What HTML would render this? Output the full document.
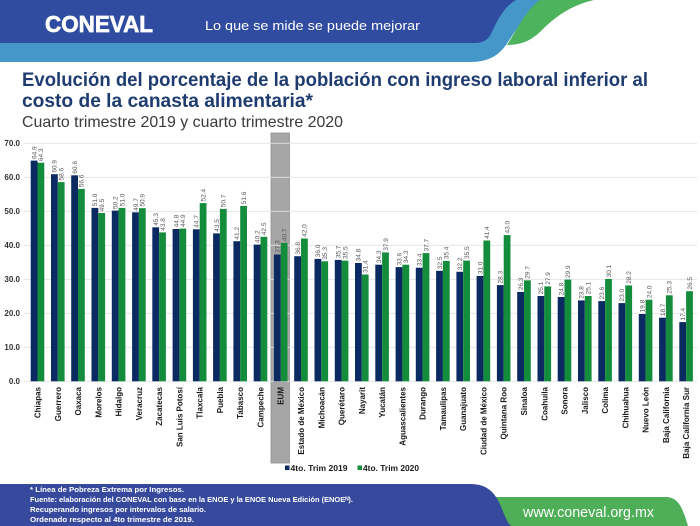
<!DOCTYPE html>
<html><head><meta charset="utf-8"><style>
html,body{margin:0;padding:0;background:#fff;}
svg{display:block;}
text{font-family:"Liberation Sans",Arial,sans-serif;}
.v{font-size:6.5px;fill:#555;}
.c{font-size:8px;font-weight:bold;fill:#1a1a1a;text-anchor:end;}
.y{font-size:8px;font-weight:bold;fill:#333;text-anchor:end;}
.f{font-size:7.2px;font-weight:bold;fill:#fff;}
</style></head><body>
<svg width="700" height="526" viewBox="0 0 700 526" xmlns="http://www.w3.org/2000/svg">
<rect width="700" height="526" fill="#fff"/>
<!-- header -->
<path d="M0,0 H548 C528,10 516,30 506,45 C498,56 488,62 470,62 H0 Z" fill="#4597ca"/>
<path d="M540,0 H594 C572,5 556,16 542,30 C532,40 522,45 507,45 C518,28 526,10 540,0 Z" fill="#4db35c"/>
<path d="M0,0 H516 C502,8 496,24 491,34 C487,41 482,43 474,43 H0 Z" fill="#2f4ca0"/>
<text x="45" y="32" font-size="23" font-weight="bold" fill="#fff" stroke="#fff" stroke-width="0.7" textLength="108" lengthAdjust="spacingAndGlyphs">CONEVAL</text>
<text x="205" y="30" font-size="13" fill="#fff" textLength="215" lengthAdjust="spacingAndGlyphs">Lo que se mide se puede mejorar</text>
<!-- titles -->
<text x="22" y="86" font-size="19.5" font-weight="bold" fill="#1f3c70" textLength="626" lengthAdjust="spacingAndGlyphs">Evolución del porcentaje de la población con ingreso laboral inferior al</text>
<text x="22" y="107" font-size="19.5" font-weight="bold" fill="#1f3c70" textLength="291" lengthAdjust="spacingAndGlyphs">costo de la canasta alimentaria*</text>
<text x="22" y="127" font-size="16" fill="#3a3a3a" textLength="321" lengthAdjust="spacingAndGlyphs">Cuarto trimestre 2019 y cuarto trimestre 2020</text>
<!-- EUM highlight -->
<rect x="271" y="133" width="18.5" height="330" fill="#a6a6a6" stroke="#909090" stroke-width="0.8"/>
<!-- grid -->
<g stroke="#e2e2e2" stroke-width="0.8">
<line x1="24" y1="143.3" x2="697" y2="143.3"/>
<line x1="24" y1="177.3" x2="697" y2="177.3"/>
<line x1="24" y1="211.3" x2="697" y2="211.3"/>
<line x1="24" y1="245.3" x2="697" y2="245.3"/>
<line x1="24" y1="279.3" x2="697" y2="279.3"/>
<line x1="24" y1="313.3" x2="697" y2="313.3"/>
<line x1="24" y1="347.3" x2="697" y2="347.3"/>
<line x1="24" y1="381.3" x2="697" y2="381.3"/>
</g>
<g>
<text class="y" x="20" y="146">70.0</text>
<text class="y" x="20" y="180">60.0</text>
<text class="y" x="20" y="214">50.0</text>
<text class="y" x="20" y="248">40.0</text>
<text class="y" x="20" y="282">30.0</text>
<text class="y" x="20" y="316">20.0</text>
<text class="y" x="20" y="350">10.0</text>
<text class="y" x="20" y="384">0.0</text>
</g>
<!-- blue bars -->
<g fill="#0b2a62">
<rect x="30.7" y="160.6" width="6.8" height="220.7"/>
<rect x="51.0" y="174.2" width="6.8" height="207.1"/>
<rect x="71.2" y="175.3" width="6.8" height="206.0"/>
<rect x="91.5" y="207.9" width="6.8" height="173.4"/>
<rect x="111.8" y="210.6" width="6.8" height="170.7"/>
<rect x="132.1" y="212.3" width="6.8" height="169.0"/>
<rect x="152.3" y="227.3" width="6.8" height="154.0"/>
<rect x="172.6" y="229.0" width="6.8" height="152.3"/>
<rect x="192.9" y="229.3" width="6.8" height="152.0"/>
<rect x="213.1" y="233.4" width="6.8" height="147.9"/>
<rect x="233.4" y="241.2" width="6.8" height="140.1"/>
<rect x="253.7" y="244.6" width="6.8" height="136.7"/>
<rect x="273.9" y="254.5" width="6.8" height="126.8"/>
<rect x="294.2" y="256.2" width="6.8" height="125.1"/>
<rect x="314.5" y="258.9" width="6.8" height="122.4"/>
<rect x="334.8" y="259.9" width="6.8" height="121.4"/>
<rect x="355.0" y="263.0" width="6.8" height="118.3"/>
<rect x="375.3" y="264.7" width="6.8" height="116.6"/>
<rect x="395.6" y="267.1" width="6.8" height="114.2"/>
<rect x="415.8" y="267.7" width="6.8" height="113.6"/>
<rect x="436.1" y="270.8" width="6.8" height="110.5"/>
<rect x="456.4" y="271.8" width="6.8" height="109.5"/>
<rect x="476.6" y="275.9" width="6.8" height="105.4"/>
<rect x="496.9" y="285.1" width="6.8" height="96.2"/>
<rect x="517.2" y="291.9" width="6.8" height="89.4"/>
<rect x="537.5" y="296.0" width="6.8" height="85.3"/>
<rect x="557.7" y="297.0" width="6.8" height="84.3"/>
<rect x="578.0" y="300.4" width="6.8" height="80.9"/>
<rect x="598.3" y="301.1" width="6.8" height="80.2"/>
<rect x="618.5" y="303.1" width="6.8" height="78.2"/>
<rect x="638.8" y="314.0" width="6.8" height="67.3"/>
<rect x="659.1" y="317.7" width="6.8" height="63.6"/>
<rect x="679.3" y="322.1" width="6.8" height="59.2"/>
</g>
<!-- green bars -->
<g fill="#138c3b">
<rect x="37.5" y="162.7" width="6.8" height="218.6"/>
<rect x="57.8" y="182.1" width="6.8" height="199.2"/>
<rect x="78.0" y="188.9" width="6.8" height="192.4"/>
<rect x="98.3" y="213.0" width="6.8" height="168.3"/>
<rect x="118.6" y="207.9" width="6.8" height="173.4"/>
<rect x="138.9" y="208.2" width="6.8" height="173.1"/>
<rect x="159.1" y="232.4" width="6.8" height="148.9"/>
<rect x="179.4" y="228.6" width="6.8" height="152.7"/>
<rect x="199.7" y="203.1" width="6.8" height="178.2"/>
<rect x="219.9" y="208.9" width="6.8" height="172.4"/>
<rect x="240.2" y="205.9" width="6.8" height="175.4"/>
<rect x="260.5" y="236.8" width="6.8" height="144.5"/>
<rect x="280.7" y="242.9" width="6.8" height="138.4"/>
<rect x="301.0" y="238.5" width="6.8" height="142.8"/>
<rect x="321.3" y="261.3" width="6.8" height="120.0"/>
<rect x="341.6" y="260.6" width="6.8" height="120.7"/>
<rect x="361.8" y="274.5" width="6.8" height="106.8"/>
<rect x="382.1" y="252.4" width="6.8" height="128.9"/>
<rect x="402.4" y="264.7" width="6.8" height="116.6"/>
<rect x="422.6" y="253.1" width="6.8" height="128.2"/>
<rect x="442.9" y="260.9" width="6.8" height="120.4"/>
<rect x="463.2" y="260.6" width="6.8" height="120.7"/>
<rect x="483.4" y="240.5" width="6.8" height="140.8"/>
<rect x="503.7" y="235.1" width="6.8" height="146.2"/>
<rect x="524.0" y="280.3" width="6.8" height="101.0"/>
<rect x="544.3" y="286.4" width="6.8" height="94.9"/>
<rect x="564.5" y="279.6" width="6.8" height="101.7"/>
<rect x="584.8" y="296.0" width="6.8" height="85.3"/>
<rect x="605.1" y="279.0" width="6.8" height="102.3"/>
<rect x="625.3" y="285.4" width="6.8" height="95.9"/>
<rect x="645.6" y="299.7" width="6.8" height="81.6"/>
<rect x="665.9" y="295.3" width="6.8" height="86.0"/>
<rect x="686.1" y="291.2" width="6.8" height="90.1"/>
</g>
<!-- value labels 2019 -->
<g class="v">
<text transform="translate(36.4,159) rotate(-90)">64.9</text>
<text transform="translate(56.7,172.6) rotate(-90)">60.9</text>
<text transform="translate(76.9,173.7) rotate(-90)">60.6</text>
<text transform="translate(97.2,206.3) rotate(-90)">51.0</text>
<text transform="translate(117.5,209) rotate(-90)">50.2</text>
<text transform="translate(137.8,210.7) rotate(-90)">49.7</text>
<text transform="translate(158,225.7) rotate(-90)">45.3</text>
<text transform="translate(178.3,227.4) rotate(-90)">44.8</text>
<text transform="translate(198.6,227.7) rotate(-90)">44.7</text>
<text transform="translate(218.8,231.8) rotate(-90)">43.5</text>
<text transform="translate(239.1,239.6) rotate(-90)">41.2</text>
<text transform="translate(259.4,243) rotate(-90)">40.2</text>
<text transform="translate(279.6,252.9) rotate(-90)">37.3</text>
<text transform="translate(299.9,254.6) rotate(-90)">36.8</text>
<text transform="translate(320.2,257.3) rotate(-90)">36.0</text>
<text transform="translate(340.5,258.3) rotate(-90)">35.7</text>
<text transform="translate(360.7,261.4) rotate(-90)">34.8</text>
<text transform="translate(381,263.1) rotate(-90)">34.3</text>
<text transform="translate(401.3,265.5) rotate(-90)">33.6</text>
<text transform="translate(421.5,266.1) rotate(-90)">33.4</text>
<text transform="translate(441.8,269.2) rotate(-90)">32.5</text>
<text transform="translate(462.1,270.2) rotate(-90)">32.2</text>
<text transform="translate(482.3,274.3) rotate(-90)">31.0</text>
<text transform="translate(502.6,283.5) rotate(-90)">28.3</text>
<text transform="translate(522.9,290.3) rotate(-90)">26.3</text>
<text transform="translate(543.2,294.4) rotate(-90)">25.1</text>
<text transform="translate(563.4,295.4) rotate(-90)">24.8</text>
<text transform="translate(583.7,298.8) rotate(-90)">23.8</text>
<text transform="translate(604,299.5) rotate(-90)">23.6</text>
<text transform="translate(624.2,301.5) rotate(-90)">23.0</text>
<text transform="translate(644.5,312.4) rotate(-90)">19.8</text>
<text transform="translate(664.8,316.1) rotate(-90)">18.7</text>
<text transform="translate(685,320.5) rotate(-90)">17.4</text>
</g>
<!-- value labels 2020 -->
<g class="v">
<text transform="translate(43.2,161.1) rotate(-90)">64.3</text>
<text transform="translate(63.5,180.5) rotate(-90)">58.6</text>
<text transform="translate(83.7,187.3) rotate(-90)">56.6</text>
<text transform="translate(104,211.4) rotate(-90)">49.5</text>
<text transform="translate(124.3,206.3) rotate(-90)">51.0</text>
<text transform="translate(144.6,206.6) rotate(-90)">50.9</text>
<text transform="translate(164.8,230.8) rotate(-90)">43.8</text>
<text transform="translate(185.1,227) rotate(-90)">44.9</text>
<text transform="translate(205.4,201.5) rotate(-90)">52.4</text>
<text transform="translate(225.6,207.3) rotate(-90)">50.7</text>
<text transform="translate(245.9,204.3) rotate(-90)">51.6</text>
<text transform="translate(266.2,235.2) rotate(-90)">42.5</text>
<text transform="translate(286.4,241.3) rotate(-90)">40.7</text>
<text transform="translate(306.7,236.9) rotate(-90)">42.0</text>
<text transform="translate(327,259.7) rotate(-90)">35.3</text>
<text transform="translate(347.3,259) rotate(-90)">35.5</text>
<text transform="translate(367.5,272.9) rotate(-90)">31.4</text>
<text transform="translate(387.8,250.8) rotate(-90)">37.9</text>
<text transform="translate(408.1,263.1) rotate(-90)">34.3</text>
<text transform="translate(428.3,251.5) rotate(-90)">37.7</text>
<text transform="translate(448.6,259.3) rotate(-90)">35.4</text>
<text transform="translate(468.9,259) rotate(-90)">35.5</text>
<text transform="translate(489.1,238.9) rotate(-90)">41.4</text>
<text transform="translate(509.4,233.5) rotate(-90)">43.0</text>
<text transform="translate(529.7,278.7) rotate(-90)">29.7</text>
<text transform="translate(550,284.8) rotate(-90)">27.9</text>
<text transform="translate(570.2,278) rotate(-90)">29.9</text>
<text transform="translate(590.5,294.4) rotate(-90)">25.1</text>
<text transform="translate(610.8,277.4) rotate(-90)">30.1</text>
<text transform="translate(631,283.8) rotate(-90)">28.2</text>
<text transform="translate(651.3,298.1) rotate(-90)">24.0</text>
<text transform="translate(671.6,293.7) rotate(-90)">25.3</text>
<text transform="translate(691.8,289.6) rotate(-90)">26.5</text>
</g>
<!-- category labels -->
<g class="c">
<text transform="translate(40.5,387) rotate(-90)">Chiapas</text>
<text transform="translate(60.8,387) rotate(-90)">Guerrero</text>
<text transform="translate(81,387) rotate(-90)">Oaxaca</text>
<text transform="translate(101.3,387) rotate(-90)">Morelos</text>
<text transform="translate(121.6,387) rotate(-90)">Hidalgo</text>
<text transform="translate(141.9,387) rotate(-90)">Veracruz</text>
<text transform="translate(162.1,387) rotate(-90)">Zacatecas</text>
<text transform="translate(182.4,387) rotate(-90)">San Luis Potosí</text>
<text transform="translate(202.7,387) rotate(-90)">Tlaxcala</text>
<text transform="translate(222.9,387) rotate(-90)">Puebla</text>
<text transform="translate(243.2,387) rotate(-90)">Tabasco</text>
<text transform="translate(263.5,387) rotate(-90)">Campeche</text>
<text transform="translate(283.7,387) rotate(-90)">EUM</text>
<text transform="translate(304,387) rotate(-90)">Estado de México</text>
<text transform="translate(324.3,387) rotate(-90)">Michoacán</text>
<text transform="translate(344.6,387) rotate(-90)">Querétaro</text>
<text transform="translate(364.8,387) rotate(-90)">Nayarit</text>
<text transform="translate(385.1,387) rotate(-90)">Yucatán</text>
<text transform="translate(405.4,387) rotate(-90)">Aguascalientes</text>
<text transform="translate(425.6,387) rotate(-90)">Durango</text>
<text transform="translate(445.9,387) rotate(-90)">Tamaulipas</text>
<text transform="translate(466.2,387) rotate(-90)">Guanajuato</text>
<text transform="translate(486.4,387) rotate(-90)">Ciudad de México</text>
<text transform="translate(506.7,387) rotate(-90)">Quintana Roo</text>
<text transform="translate(527,387) rotate(-90)">Sinaloa</text>
<text transform="translate(547.3,387) rotate(-90)">Coahuila</text>
<text transform="translate(567.5,387) rotate(-90)">Sonora</text>
<text transform="translate(587.8,387) rotate(-90)">Jalisco</text>
<text transform="translate(608.1,387) rotate(-90)">Colima</text>
<text transform="translate(628.3,387) rotate(-90)">Chihuahua</text>
<text transform="translate(648.6,387) rotate(-90)">Nuevo León</text>
<text transform="translate(668.9,387) rotate(-90)">Baja California</text>
<text transform="translate(689.1,387) rotate(-90)">Baja California Sur</text>
</g>
<!-- legend -->
<rect x="285" y="465.5" width="4.5" height="4.5" fill="#0b2a62"/>
<text x="290.5" y="471" font-size="8.5" font-weight="bold" fill="#1a1a1a" textLength="57" lengthAdjust="spacingAndGlyphs">4to. Trim 2019</text>
<rect x="357.5" y="465.5" width="4.5" height="4.5" fill="#138c3b"/>
<text x="363" y="471" font-size="8.5" font-weight="bold" fill="#1a1a1a" textLength="56" lengthAdjust="spacingAndGlyphs">4to. Trim 2020</text>
<!-- footer -->
<path d="M470,497 H665 C678,497 682,506 688,526 H470 Z" fill="#4fae58"/>
<path d="M0,484 H470 C489,484 496,494 502,509 C506,519 509,526 512,526 H0 Z" fill="#36499d"/>
<text class="f" x="30" y="492" textLength="154" lengthAdjust="spacingAndGlyphs">* Línea de Pobreza Extrema por Ingresos.</text>
<text class="f" x="30" y="502" textLength="323" lengthAdjust="spacingAndGlyphs">Fuente: elaboración del CONEVAL con base en la ENOE y la ENOE Nueva Edición (ENOEᴺ).</text>
<text class="f" x="30" y="512" textLength="176" lengthAdjust="spacingAndGlyphs">Recuperando ingresos  por intervalos de salario.</text>
<text class="f" x="30" y="522" textLength="164" lengthAdjust="spacingAndGlyphs">Ordenado respecto al 4to trimestre de 2019.</text>
<text x="523" y="517" font-size="15" fill="#fff" textLength="131" lengthAdjust="spacingAndGlyphs">www.coneval.org.mx</text>
</svg>
</body></html>
